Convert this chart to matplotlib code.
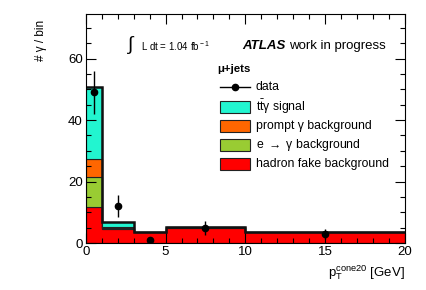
import numpy as np
import matplotlib
matplotlib.use("Agg")
import matplotlib.pyplot as plt
from matplotlib.patches import Rectangle
from matplotlib.lines import Line2D
from matplotlib.ticker import MultipleLocator

plt.rcParams['font.family'] = ['Liberation Sans', 'DejaVu Sans']
plt.rcParams['mathtext.fontset'] = 'custom'
plt.rcParams['mathtext.rm'] = 'Liberation Sans'
plt.rcParams['mathtext.it'] = 'Liberation Sans:italic'

# bin edges in pT cone20 [GeV]
edges = [0, 1, 3, 5, 10, 20]

# stacked components (per bin), bottom to top
hadron_fake = [11.8, 4.5, 3.5, 4.9, 3.5]
e_to_gamma = [9.6, 0.4, 0.1, 0.2, 0.1]
prompt_gamma = [5.9, 0.3, 0.05, 0.1, 0.05]
ttgamma = [23.4, 1.6, 0.05, 0.1, 0.05]

# data points
data_x = [0.5, 2, 4, 7.5, 15]
data_y = [49, 12, 1.0, 4.9, 2.9]
data_err = [7.0, 3.5, 0.7, 2.2, 1.7]

components = [
    (hadron_fake, "#ff0000", "hadron fake background"),
    (e_to_gamma, "#99cc33", "e $\\rightarrow$ \u03b3 background"),
    (prompt_gamma, "#ff6600", "prompt \u03b3 background"),
    (ttgamma, "#22f5d0", "t$\\bar{\\mathrm{t}}$\u03b3 signal"),
]

fig = plt.figure(figsize=(4.27, 2.90), dpi=100)
ax = fig.add_axes([0.2007, 0.162, 0.748, 0.790])

bottom = np.zeros(len(hadron_fake))
for vals, col, lab in components:
    top = bottom + np.array(vals)
    ax.stairs(top, edges, baseline=bottom, fill=True, facecolor=col,
              edgecolor='#222222', linewidth=0.8)
    bottom = top
# total outline
ax.stairs(bottom, edges, baseline=None, fill=False, color='#111111', linewidth=1.8)

ax.errorbar(data_x, data_y, yerr=data_err, fmt='o', color='black',
            markersize=4.5, elinewidth=1.0, capsize=0, zorder=5)

ax.set_xlim(0, 20)
ax.set_ylim(0, 74.5)
ax.xaxis.set_major_locator(MultipleLocator(5))
ax.xaxis.set_minor_locator(MultipleLocator(1))
ax.yaxis.set_major_locator(MultipleLocator(20))
ax.yaxis.set_minor_locator(MultipleLocator(5))
ax.tick_params(which='both', direction='in', top=True, right=True, labelsize=9.5, pad=2)
ax.tick_params(which='major', length=7, width=0.8)
ax.tick_params(which='minor', length=3.5, width=0.8)
for s in ax.spines.values():
    s.set_linewidth(0.8)

fig.text(0.095, 0.93, "# \u03b3 / bin", rotation=90, ha='center', va='top', fontsize=8.5)
fig.text(0.9485, 0.045, r"p$_{\rm T}^{\rm cone20}$ [GeV]", ha='right', va='baseline', fontsize=9.5)

# luminosity and ATLAS labels
ax.text(0.13, 0.865, r"$\int$", transform=ax.transAxes, fontsize=14, va='center', ha='left')
ax.text(0.172, 0.86, r"L dt = 1.04 fb$^{\rm -1}$", transform=ax.transAxes,
        fontsize=7, va='center', ha='left')
ax.text(0.49, 0.86, "ATLAS", transform=ax.transAxes, fontsize=9.5,
        fontweight='bold', fontstyle='italic', va='center', ha='left')
ax.text(0.638, 0.86, "work in progress", transform=ax.transAxes, fontsize=9.5,
        va='center', ha='left')
ax.text(0.413, 0.76, "\u03bc+jets", transform=ax.transAxes, fontsize=8.2,
        fontweight='bold', va='center', ha='left')

# hand-placed legend
legend_rows = [0.681, 0.594, 0.512, 0.428, 0.345]
bx0, bw, bh = 0.42, 0.094, 0.054
line = Line2D([bx0, bx0 + bw], [legend_rows[0]] * 2, transform=ax.transAxes,
              color='black', lw=1.0, marker=None)
ax.add_line(line)
ax.plot([bx0 + bw / 2], [legend_rows[0]], 'o', color='black', markersize=4.5,
        transform=ax.transAxes)
ax.text(0.532, legend_rows[0], "data", transform=ax.transAxes,
        fontsize=8.8, va='center', ha='left')
for row, (vals, col, lab) in zip(legend_rows[1:], components[::-1]):
    ax.add_patch(Rectangle((bx0, row - bh / 2), bw, bh, transform=ax.transAxes,
                           facecolor=col, edgecolor='#222222', lw=0.8))
    ax.text(0.532, row, lab, transform=ax.transAxes,
            fontsize=8.8, va='center', ha='left')

fig.savefig("out.png", dpi=100)
